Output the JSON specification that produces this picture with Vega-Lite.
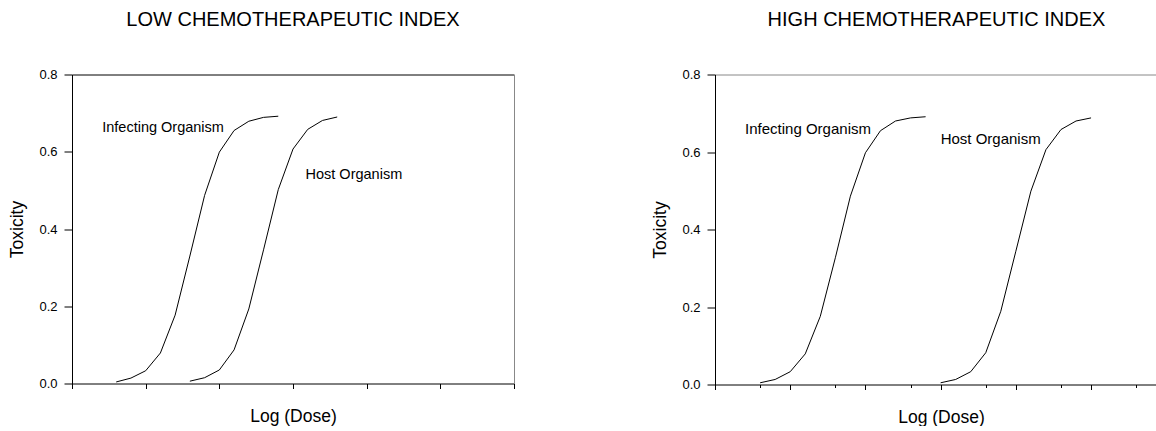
{
  "$schema": "https://vega.github.io/schema/vega-lite/v6.json",
  "padding": {"left": 8, "right": 0, "top": 9.5, "bottom": 0},
  "autosize": {"type": "pad"},
  "background": "white",
  "config": {
    "font": "Liberation Sans",
    "view": {"stroke": null},
    "concat": {"spacing": 136},
    "title": {"fontSize": 20, "fontWeight": "normal", "color": "black", "font": "Liberation Sans", "baseline": "alphabetic", "offset": 39},
    "axis": {
      "grid": false,
      "labelFont": "Liberation Sans",
      "labelFontSize": 13,
      "labelColor": "black",
      "titleFont": "Liberation Sans",
      "titleFontSize": 17.5,
      "titleFontWeight": "normal",
      "titleColor": "black",
      "domainColor": "black",
      "tickColor": "black",
      "domainWidth": 1,
      "tickWidth": 1
    }
  },
  "datasets": {
    "low": [
      {"series": "Infecting", "dose": 0.6, "tox": 0.004},
      {"series": "Infecting", "dose": 0.8, "tox": 0.014},
      {"series": "Infecting", "dose": 1.0, "tox": 0.033},
      {"series": "Infecting", "dose": 1.2, "tox": 0.079},
      {"series": "Infecting", "dose": 1.4, "tox": 0.177},
      {"series": "Infecting", "dose": 1.6, "tox": 0.33},
      {"series": "Infecting", "dose": 1.8, "tox": 0.487},
      {"series": "Infecting", "dose": 2.0, "tox": 0.599},
      {"series": "Infecting", "dose": 2.2, "tox": 0.655},
      {"series": "Infecting", "dose": 2.4, "tox": 0.679},
      {"series": "Infecting", "dose": 2.6, "tox": 0.689},
      {"series": "Infecting", "dose": 2.8, "tox": 0.692},
      {"series": "Host", "dose": 1.6, "tox": 0.006},
      {"series": "Host", "dose": 1.8, "tox": 0.015},
      {"series": "Host", "dose": 2.0, "tox": 0.035},
      {"series": "Host", "dose": 2.2, "tox": 0.087},
      {"series": "Host", "dose": 2.4, "tox": 0.193},
      {"series": "Host", "dose": 2.6, "tox": 0.346},
      {"series": "Host", "dose": 2.8, "tox": 0.502},
      {"series": "Host", "dose": 3.0, "tox": 0.607},
      {"series": "Host", "dose": 3.2, "tox": 0.658},
      {"series": "Host", "dose": 3.4, "tox": 0.681},
      {"series": "Host", "dose": 3.6, "tox": 0.69}
    ],
    "high": [
      {"series": "Infecting", "dose": 0.6, "tox": 0.0044},
      {"series": "Infecting", "dose": 0.8, "tox": 0.013},
      {"series": "Infecting", "dose": 1.0, "tox": 0.033},
      {"series": "Infecting", "dose": 1.2, "tox": 0.079},
      {"series": "Infecting", "dose": 1.4, "tox": 0.176},
      {"series": "Infecting", "dose": 1.6, "tox": 0.327},
      {"series": "Infecting", "dose": 1.8, "tox": 0.486},
      {"series": "Infecting", "dose": 2.0, "tox": 0.598},
      {"series": "Infecting", "dose": 2.2, "tox": 0.655},
      {"series": "Infecting", "dose": 2.4, "tox": 0.68},
      {"series": "Infecting", "dose": 2.6, "tox": 0.688},
      {"series": "Infecting", "dose": 2.8, "tox": 0.691},
      {"series": "Host", "dose": 3.0, "tox": 0.0044},
      {"series": "Host", "dose": 3.2, "tox": 0.013},
      {"series": "Host", "dose": 3.4, "tox": 0.033},
      {"series": "Host", "dose": 3.6, "tox": 0.082},
      {"series": "Host", "dose": 3.8, "tox": 0.189},
      {"series": "Host", "dose": 4.0, "tox": 0.344},
      {"series": "Host", "dose": 4.2, "tox": 0.499},
      {"series": "Host", "dose": 4.4, "tox": 0.606},
      {"series": "Host", "dose": 4.6, "tox": 0.658},
      {"series": "Host", "dose": 4.8, "tox": 0.68},
      {"series": "Host", "dose": 5.0, "tox": 0.688}
    ]
  },
  "hconcat": [
    {
      "width": 442,
      "height": 309,
      "title": {"text": "LOW CHEMOTHERAPEUTIC INDEX"},
      "resolve": {"axis": {"x": "independent", "y": "independent"}},
      "layer": [
        {
          "data": {"name": "low"},
          "mark": {"type": "line", "color": "black", "strokeWidth": 1},
          "encoding": {
            "x": {"field": "dose", "type": "quantitative", "scale": {"domain": [0, 6], "nice": false, "zero": false},
                  "axis": {"orient": "bottom", "values": [0, 1, 2, 3, 4, 5, 6], "labels": false, "tickSize": 5, "title": "Log (Dose)", "titlePadding": 18}},
            "y": {"field": "tox", "type": "quantitative", "scale": {"domain": [0, 0.8], "nice": false},
                  "axis": {"orient": "left", "values": [0, 0.2, 0.4, 0.6, 0.8], "format": ".1f", "tickSize": 8, "labelPadding": 7, "title": "Toxicity", "titlePadding": 12}},
            "detail": {"field": "series"}
          }
        },
        {
          "data": {"values": [{}]},
          "mark": {"type": "text", "text": "Infecting Organism", "align": "left", "baseline": "middle", "fontSize": 14.5, "color": "black"},
          "encoding": {
            "x": {"datum": 0.41, "type": "quantitative",
                  "axis": {"orient": "top", "labels": false, "ticks": false, "title": null, "domainColor": "black"}},
            "y": {"datum": 0.661, "type": "quantitative",
                  "axis": {"orient": "right", "labels": false, "ticks": false, "title": null, "domainColor": "#888888"}}
          }
        },
        {
          "data": {"values": [{}]},
          "mark": {"type": "text", "text": "Host Organism", "align": "left", "baseline": "middle", "fontSize": 14.5, "color": "black"},
          "encoding": {
            "x": {"datum": 3.17, "type": "quantitative", "axis": null},
            "y": {"datum": 0.54, "type": "quantitative", "axis": null}
          }
        }
      ]
    },
    {
      "width": 443,
      "height": 310,
      "title": {"text": "HIGH CHEMOTHERAPEUTIC INDEX"},
      "resolve": {"axis": {"x": "independent", "y": "independent"}},
      "layer": [
        {
          "data": {"name": "high"},
          "mark": {"type": "line", "color": "black", "strokeWidth": 1},
          "encoding": {
            "x": {"field": "dose", "type": "quantitative", "scale": {"domain": [0, 5.89], "nice": false, "zero": false},
                  "axis": {"orient": "bottom", "values": [0, 0.6, 1, 1.6, 2, 2.6, 3, 3.6, 4, 4.6, 5, 5.6], "labels": false,
                           "tickSize": {"condition": {"test": "datum.value % 1 === 0", "value": 5}, "value": 3},
                           "title": "Log (Dose)", "titlePadding": 18, "titleX": 226}},
            "y": {"field": "tox", "type": "quantitative", "scale": {"domain": [0, 0.8], "nice": false},
                  "axis": {"orient": "left", "values": [0, 0.2, 0.4, 0.6, 0.8], "format": ".1f", "tickSize": 8, "labelPadding": 7, "title": "Toxicity", "titlePadding": 12}},
            "detail": {"field": "series"}
          }
        },
        {
          "data": {"values": [{}]},
          "mark": {"type": "text", "text": "Infecting Organism", "align": "left", "baseline": "middle", "fontSize": 15, "color": "black"},
          "encoding": {
            "x": {"datum": 0.4, "type": "quantitative",
                  "axis": {"orient": "top", "labels": false, "ticks": false, "title": null, "domainColor": "#888888"}},
            "y": {"datum": 0.66, "type": "quantitative", "axis": null}
          }
        },
        {
          "data": {"values": [{}]},
          "mark": {"type": "text", "text": "Host Organism", "align": "left", "baseline": "middle", "fontSize": 15, "color": "black"},
          "encoding": {
            "x": {"datum": 3.0, "type": "quantitative", "axis": null},
            "y": {"datum": 0.634, "type": "quantitative", "axis": null}
          }
        }
      ]
    }
  ]
}
